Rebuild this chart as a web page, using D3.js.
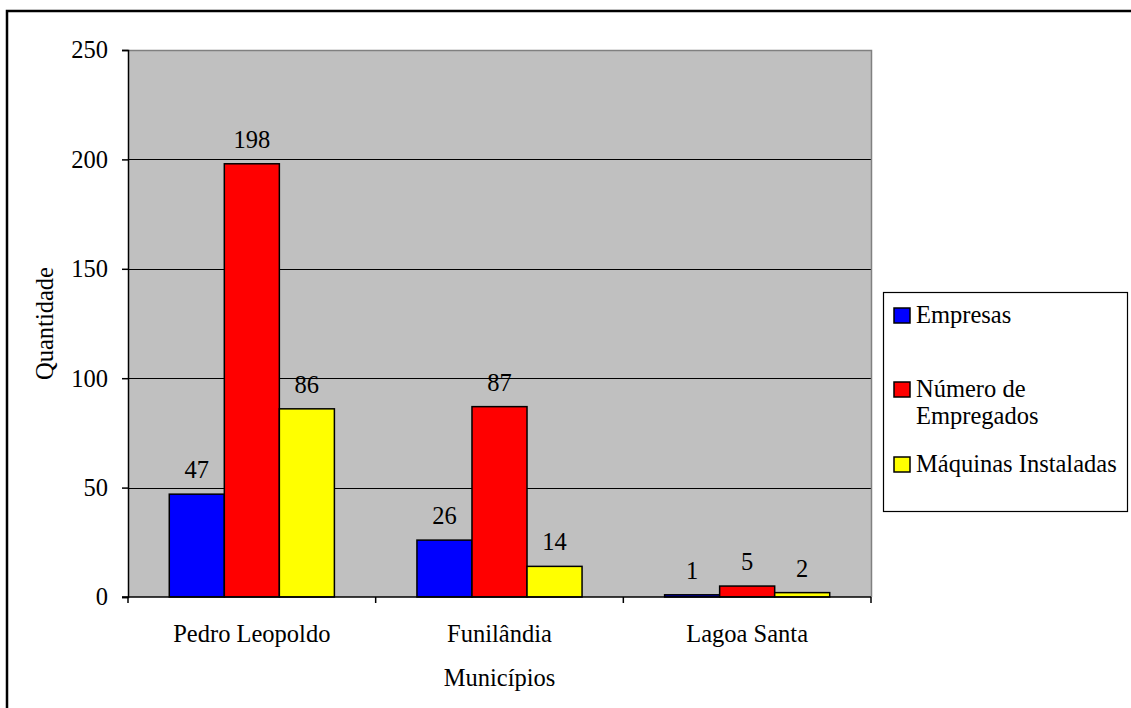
<!DOCTYPE html>
<html>
<head>
<meta charset="utf-8">
<script src="https://cdn.jsdelivr.net/npm/d3@7"></script>
</head>
<body style="margin:0">
<svg id="chart" width="1131" height="708" font-family="Liberation Serif" style="display:block;font-family:'Liberation Serif'"></svg>
<script>
// Municípios e séries
const municipios = ["Pedro Leopoldo", "Funilândia", "Lagoa Santa"];
const series = ["Empresas", "Número de Empregados", "Máquinas Instaladas"];
const empresas = [47, 26, 1];
const empregados = [198, 87, 5];
const maquinas = [86, 14, 2];
const yTicks = [0, 50, 100, 150, 200, 250];
const colors = ["#0000FF", "#FF0000", "#FFFF00"];

const values = [empresas, empregados, maquinas];
const FONT_SIZE = 24.5;
const FONT = "Liberation Serif";

const svg = d3.select("#chart");

function styleText(sel) {
  sel.attr("font-family", FONT).attr("font-size", FONT_SIZE)
    .style("font-family", FONT).style("font-size", FONT_SIZE + "px")
    .attr("fill", "#000");
}

// Outer chart frame
svg.append("path")
  .attr("d", "M7,708 V11 H1131")
  .attr("fill", "none").attr("stroke", "#000").attr("stroke-width", 2.5);

const plot = { left: 128, right: 871, top: 50, bottom: 597 };

const x0 = d3.scaleBand().domain(municipios).range([plot.left, plot.right]);
// 3 bars + 0.75 bar width on each side => band = 4.5 bar widths
const x1 = d3.scaleBand().domain(series)
  .range([x0.bandwidth() * 0.75 / 4.5, x0.bandwidth() * (1 - 0.75 / 4.5)]);
const y = d3.scaleLinear().domain([0, 250]).range([plot.bottom, plot.top]);

// Plot background
svg.append("rect")
  .attr("x", plot.left).attr("y", plot.top)
  .attr("width", plot.right - plot.left).attr("height", plot.bottom - plot.top)
  .attr("fill", "#C0C0C0");

// Gridlines
svg.append("g").selectAll("line")
  .data(yTicks.filter(t => t > 0 && t < 250))
  .join("line")
  .attr("x1", plot.left).attr("x2", plot.right)
  .attr("y1", d => Math.round(y(d)) + 0.5).attr("y2", d => Math.round(y(d)) + 0.5)
  .attr("stroke", "#000").attr("stroke-width", 1);

// Plot frame (top and right)
svg.append("path")
  .attr("d", `M${plot.left},${plot.top + 0.5} H${plot.right + 0.5} V${plot.bottom}`)
  .attr("fill", "none").attr("stroke", "#808080").attr("stroke-width", 1.5);

// Bars
const groups = svg.append("g").selectAll("g")
  .data(municipios)
  .join("g")
  .attr("transform", d => `translate(${x0(d)},0)`);

const cells = (d, i) => series.map((s, j) => ({ s, j, v: values[j][i] }));

groups.selectAll("rect")
  .data(cells)
  .join("rect")
  .attr("x", d => x1(d.s))
  .attr("width", x1.bandwidth())
  .attr("y", d => y(d.v))
  .attr("height", d => y(0) - y(d.v))
  .attr("fill", d => colors[d.j])
  .attr("stroke", "#000").attr("stroke-width", 1.5);

// Value labels
groups.selectAll("text")
  .data(cells)
  .join("text")
  .attr("x", d => x1(d.s) + x1.bandwidth() / 2)
  .attr("y", d => y(d.v) - 16)
  .attr("text-anchor", "middle")
  .call(styleText)
  .text(d => d.v);

// Y axis
const yAxis = d3.axisLeft(y).tickValues(yTicks).tickSize(6).tickPadding(14).tickFormat(d3.format("d"));
const yg = svg.append("g").attr("transform", `translate(${plot.left},0)`).call(yAxis)
  .attr("font-family", FONT).attr("font-size", FONT_SIZE);
yg.select(".domain").attr("stroke", "#000").attr("stroke-width", 1.5);
yg.selectAll(".tick line").attr("stroke", "#000").attr("stroke-width", 1.5);
yg.selectAll(".tick text").call(styleText);

// X axis
const xg = svg.append("g").attr("transform", `translate(0,${plot.bottom})`);
xg.append("line").attr("x1", plot.left - 6).attr("x2", plot.right)
  .attr("y1", 0).attr("y2", 0).attr("stroke", "#000").attr("stroke-width", 1.5);
const xTickPos = [plot.left].concat(municipios.map(m => x0(m) + x0.bandwidth()));
xg.selectAll("line.tick").data(xTickPos).join("line").attr("class", "tick")
  .attr("x1", d => d).attr("x2", d => d).attr("y1", 0).attr("y2", 6)
  .attr("stroke", "#000").attr("stroke-width", 1.5);
xg.selectAll("text").data(municipios).join("text")
  .attr("x", d => x0(d) + x0.bandwidth() / 2)
  .attr("y", 45)
  .attr("text-anchor", "middle")
  .call(styleText)
  .text(d => d);

// Axis titles
svg.append("text")
  .attr("x", (plot.left + plot.right) / 2).attr("y", 686)
  .attr("text-anchor", "middle").call(styleText)
  .text("Municípios");
svg.append("text")
  .attr("transform", `translate(53,${(plot.top + plot.bottom) / 2}) rotate(-90)`)
  .attr("text-anchor", "middle").call(styleText)
  .text("Quantidade");

// Legend
const legend = svg.append("g");
legend.append("rect")
  .attr("x", 883.5).attr("y", 292.5).attr("width", 244).attr("height", 219)
  .attr("fill", "#fff").attr("stroke", "#000").attr("stroke-width", 1.2);

const legendRows = [
  { lines: ["Empresas"], y: 323 },
  { lines: ["Número de", "Empregados"], y: 397 },
  { lines: ["Máquinas Instaladas"], y: 472 }
];
legendRows.forEach((row, i) => {
  legend.append("rect")
    .attr("x", 894).attr("y", row.y - 15).attr("width", 16).attr("height", 15)
    .attr("fill", colors[i]).attr("stroke", "#000").attr("stroke-width", 1.5);
  const t = legend.append("text").attr("x", 916).attr("y", row.y).call(styleText);
  row.lines.forEach((ln, k) => {
    t.append("tspan").attr("x", 916).attr("dy", k === 0 ? 0 : 27).text(ln);
  });
});
</script>
</body>
</html>
